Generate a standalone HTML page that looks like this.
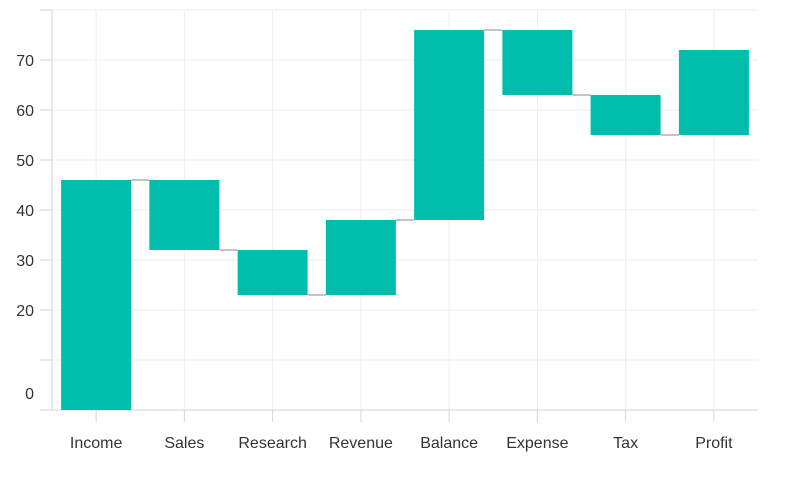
<!DOCTYPE html>
<html><head><meta charset="utf-8"><style>
body{margin:0;background:#fff;}
svg text{font-family:"Segoe UI","Liberation Sans",sans-serif;fill:#333;}
</style></head><body>
<svg id="chart" width="790" height="474"></svg>
<script>
const categories=["Income","Sales","Research","Revenue","Balance","Expense","Tax","Profit"];
const starts=[0,46,32,23,38,76,63,55];
const ends=[46,32,23,38,76,63,55,72];
const yTicks=[10,20,30,40,50,60,70,80];
const yLabels=[0,20,30,40,50,60,70];
const NS="http://www.w3.org/2000/svg";
const svg=document.getElementById('chart');
const x0=52,x1=758,catW=(x1-x0)/categories.length;
const y=v=>410-5*v;
const cx=i=>x0+catW*(i+0.5);
function mk(t,a){const e=document.createElementNS(NS,t);for(const k in a)e.setAttribute(k,a[k]);svg.appendChild(e);return e;}
yTicks.forEach(v=>{
 const g=mk('line',{x1:40,x2:x1,y1:y(v),y2:y(v),stroke:'#eeeeee'});
 
 
 const t=mk('line',{x1:40,x2:x0,y1:y(v),y2:y(v),stroke:'#d6d6d6'});
 
 
});
mk('line',{x1:40,x2:x0,y1:y(0),y2:y(0),stroke:'#d6d6d6'});
categories.forEach((c,i)=>{
 const g=mk('line',{x1:cx(i),x2:cx(i),y1:10,y2:410,stroke:'#eeeeee'});
 
 
 const t=mk('line',{x1:cx(i),x2:cx(i),y1:410,y2:422,stroke:'#d6d6d6'});
 
 
 const l=mk('text',{x:cx(i),y:448,'text-anchor':'middle','font-size':16});
 l.textContent=c;
 
 
});
const ya=mk('line',{x1:x0,x2:x0,y1:10,y2:410,stroke:'#d6d6d6'});


const xa=mk('line',{x1:x0,x2:x1,y1:410,y2:410,stroke:'#d6d6d6'});


yLabels.forEach(v=>{
 const yy=v===0?399:y(v)+6;
 const t=mk('text',{x:34,y:yy,'text-anchor':'end','font-size':16});
 t.textContent=v;
 
 
});
const bw=70;
categories.forEach((c,i)=>{
 const a=starts[i],b=ends[i];
 const r=mk('rect',{x:cx(i)-bw/2,y:y(Math.max(a,b)),width:bw,height:Math.abs(y(a)-y(b)),fill:'#00bdae'});
 
 
 if(i<categories.length-1){
  const k=mk('line',{x1:cx(i)+bw/2,x2:cx(i+1)-bw/2,y1:y(b),y2:y(b),stroke:'#b0b0b0','stroke-width':1.5});
  
  
 }
});
</script>
</body></html>
